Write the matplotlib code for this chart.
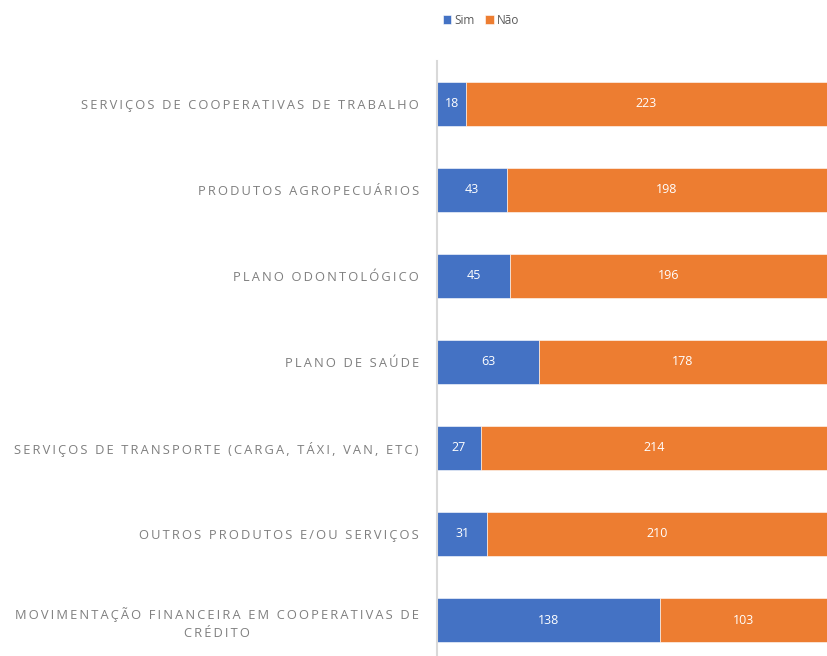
import matplotlib.pyplot as plt
import numpy as np

plt.rcParams['font.family'] = ['Open Sans', 'DejaVu Sans']

categorias = [
    'SERVIÇOS DE COOPERATIVAS DE TRABALHO',
    'PRODUTOS AGROPECUÁRIOS',
    'PLANO ODONTOLÓGICO',
    'PLANO DE SAÚDE',
    'SERVIÇOS DE TRANSPORTE (CARGA, TÁXI, VAN, ETC)',
    'OUTROS PRODUTOS E/OU SERVIÇOS',
    'MOVIMENTAÇÃO FINANCEIRA EM COOPERATIVAS DE\nCRÉDITO',
]
sim = [18, 43, 45, 63, 27, 31, 138]
nao = [223, 198, 196, 178, 214, 210, 103]

cor_sim = '#4472C4'
cor_nao = '#ED7D31'
cinza = '#7F7F7F'


def espacar(txt):
    # letras espaçadas como no estilo do Excel
    linhas = []
    for linha in txt.split('\n'):
        palavras = ['\u2009'.join(p) for p in linha.split(' ')]
        linhas.append('\u2009 \u2009'.join(palavras))
    return '\n'.join(linhas)


fig = plt.figure(figsize=(8.27, 6.56), dpi=100)
ax = fig.add_axes([0.5284, -0.0107, 0.4716, 0.918])

y = np.arange(len(categorias))[::-1]
b1 = ax.barh(y, sim, height=0.51, color=cor_sim, edgecolor='white', linewidth=0.4, label='Sim')
b2 = ax.barh(y, nao, left=sim, height=0.51, color=cor_nao, edgecolor='white', linewidth=0.4, label='Não')

for yi, s, n in zip(y, sim, nao):
    ax.text(s / 2, yi, str(s), ha='center', va='center', color='white', fontsize=9)
    ax.text(s + n / 2, yi, str(n), ha='center', va='center', color='white', fontsize=9)

ax.set_xlim(0, 241)
ax.set_ylim(-0.5, 6.5)
ax.set_xticks([])
ax.set_yticks(y)
ax.set_yticklabels([espacar(c) for c in categorias], color=cinza, fontsize=9.3,
                   multialignment='center', linespacing=1.45)
ax.tick_params(axis='y', length=0, pad=13)

for s in ['top', 'right', 'bottom']:
    ax.spines[s].set_visible(False)
ax.spines['left'].set_color('#D9D9D9')
ax.spines['left'].set_linewidth(1.5)

leg = fig.legend(handles=[b1, b2], loc='center', bbox_to_anchor=(481 / 827, 1 - 20 / 656),
                 ncol=2, frameon=False, fontsize=8.5, handlelength=0.7, handleheight=0.7,
                 handletextpad=0.3, columnspacing=0.9)
for t in leg.get_texts():
    t.set_color('#595959')

fig.savefig('out.png', dpi=100)
